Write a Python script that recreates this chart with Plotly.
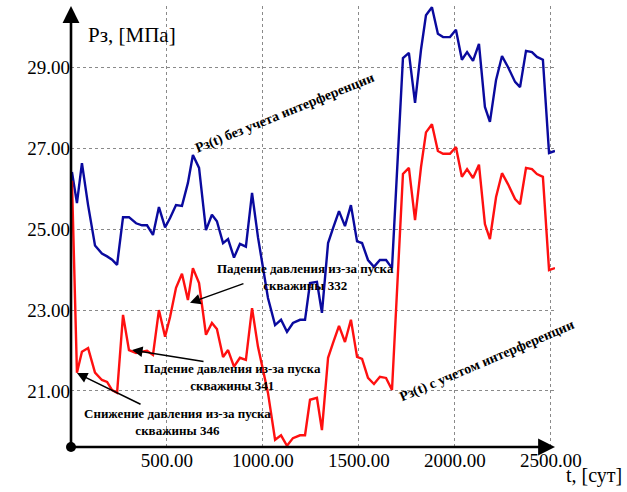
import plotly.graph_objects as go

# ---- data ----
t_days = [5, 31, 57, 89, 125, 161, 188, 214, 240, 271,
          302, 339, 370, 396, 427, 458, 490, 516, 547, 578,
          609, 635, 667, 703, 734, 760, 792, 818, 849, 880,
          911, 943, 974, 1000, 1026, 1063, 1094, 1125, 1156, 1193,
          1219, 1245, 1281, 1307, 1339, 1365, 1396, 1427, 1458, 1490,
          1516, 1547, 1578, 1609, 1641, 1672, 1703, 1729, 1760, 1792,
          1823, 1849, 1880, 1911, 1938, 1974, 2005, 2036, 2063, 2094,
          2125, 2156, 2182, 2214, 2245, 2276, 2313, 2339, 2370, 2401,
          2427, 2458, 2490, 2521]

p_no_interference = [26.42, 25.65, 26.64, 25.60, 24.60, 24.40, 24.33, 24.25, 24.12, 25.30,
                     25.30, 25.15, 25.10, 25.10, 24.86, 25.55, 25.05, 25.28, 25.60, 25.58,
                     26.15, 26.84, 26.52, 24.98, 25.36, 25.20, 24.66, 24.76, 24.30, 24.64,
                     24.57, 25.90, 24.80, 24.05, 23.30, 22.63, 22.76, 22.46, 22.68, 22.76,
                     22.76, 23.67, 23.70, 22.93, 24.66, 25.03, 25.45, 25.08, 25.60, 24.70,
                     24.66, 24.24, 24.07, 24.24, 24.24, 24.04, 26.90, 29.24, 29.37, 28.13,
                     29.44, 30.30, 30.50, 29.84, 29.76, 29.76, 29.94, 29.20, 29.39, 29.17,
                     29.59, 28.03, 27.66, 28.70, 29.29, 29.02, 28.65, 28.52, 29.42, 29.39,
                     29.27, 29.20, 26.89, 26.94]

p_interference = [26.20, 21.45, 21.97, 22.06, 21.45, 21.27, 21.22, 21.02, 20.95, 22.88,
                  22.01, 21.94, 21.97, 21.99, 21.89, 23.00, 22.34, 22.83, 23.55, 23.90,
                  23.25, 24.04, 23.67, 22.39, 22.68, 22.53, 21.84, 22.01, 21.60, 21.82,
                  21.77, 23.05, 22.09, 21.50, 20.95, 19.79, 19.90, 19.64, 19.83, 19.90,
                  19.90, 20.78, 20.83, 20.03, 21.82, 22.19, 22.61, 22.21, 22.76, 21.84,
                  21.79, 21.32, 21.17, 21.35, 21.32, 21.02, 23.90, 26.37, 26.52, 25.23,
                  26.54, 27.40, 27.60, 26.94, 26.87, 26.87, 27.04, 26.30, 26.49, 26.27,
                  26.60, 25.13, 24.76, 25.80, 26.39, 26.12, 25.75, 25.62, 26.52, 26.49,
                  26.37, 26.30, 23.99, 24.04]

y_tick_values = [21, 23, 25, 27, 29]
y_tick_labels = ["21.00", "23.00", "25.00", "27.00", "29.00"]
x_tick_values = [500, 1000, 1500, 2000, 2500]
x_tick_labels = ["500.00", "1000.00", "1500.00", "2000.00", "2500.00"]

X_MIN, X_MAX = 0, 2521
Y_MIN, Y_MAX = 19.61, 30.53

SERIF = "Liberation Serif, Times New Roman, DejaVu Serif Condensed, DejaVu Serif, serif"
BLUE = "#0A0A9E"
RED = "#FF1010"

fig = go.Figure()
fig.add_trace(go.Scatter(x=t_days, y=p_no_interference, mode="lines",
                         line=dict(color=BLUE, width=2.4), showlegend=False))
fig.add_trace(go.Scatter(x=t_days, y=p_interference, mode="lines",
                         line=dict(color=RED, width=2.4), showlegend=False))
# origin dot
fig.add_trace(go.Scatter(x=[X_MIN], y=[Y_MIN], mode="markers", cliponaxis=False,
                         marker=dict(color="black", size=10), showlegend=False))

annotations = []
# axis arrows
annotations.append(dict(x=X_MIN, y=Y_MAX, ax=X_MIN, ay=Y_MIN, xref="x", yref="y",
                        axref="x", ayref="y", text="", showarrow=True,
                        arrowhead=2, arrowsize=1.3, arrowwidth=2.6, arrowcolor="black"))
annotations.append(dict(x=X_MAX, y=Y_MIN, ax=X_MIN, ay=Y_MIN, xref="x", yref="y",
                        axref="x", ayref="y", text="", showarrow=True,
                        arrowhead=2, arrowsize=1.3, arrowwidth=2.6, arrowcolor="black"))

# axis titles
annotations.append(dict(x=0.126, y=0.934, xref="paper", yref="paper", text="Рз, [МПа]",
                        showarrow=False, xanchor="center", yanchor="middle",
                        font=dict(family=SERIF, size=21, color="black")))
annotations.append(dict(x=1.081, y=-0.064, xref="paper", yref="paper", text="t, [сут]",
                        showarrow=False, xanchor="center", yanchor="middle",
                        font=dict(family=SERIF, size=20, color="black")))

# rotated series labels
annotations.append(dict(x=1115, y=27.88, xref="x", yref="y",
                        text="<b>Рз(t) без учета интерференции</b>", showarrow=False,
                        textangle=-22, font=dict(family=SERIF, size=14, color="black")))
annotations.append(dict(x=2167, y=21.74, xref="x", yref="y",
                        text="<b>Рз(t) с учетом интерференции</b>", showarrow=False,
                        textangle=-23, font=dict(family=SERIF, size=14, color="black")))

# event labels
note_font = dict(family=SERIF, size=13, color="black")
annotations.append(dict(x=1219, y=23.82, xref="x", yref="y",
                        text="<b>Падение давления из-за пуска<br>скважины 332</b>",
                        showarrow=False, align="center", font=note_font))
annotations.append(dict(x=839, y=21.34, xref="x", yref="y",
                        text="<b>Падение давления из-за пуска<br>скважины 341</b>",
                        showarrow=False, align="center", font=note_font))
annotations.append(dict(x=557, y=20.23, xref="x", yref="y",
                        text="<b>Снижение давления из-за пуска<br>скважины 346</b>",
                        showarrow=False, align="center", font=note_font))

# event arrows (tail -> head)
for head, tail in [((620, 23.18), (906, 23.67)),
                   ((318, 22.01), (698, 21.72)),
                   ((31, 21.44), (370, 20.65))]:
    annotations.append(dict(x=head[0], y=head[1], ax=tail[0], ay=tail[1],
                            xref="x", yref="y", axref="x", ayref="y", text="",
                            showarrow=True, arrowhead=2, arrowsize=1.4,
                            arrowwidth=1.5, arrowcolor="black"))

fig.update_layout(
    width=627, height=492,
    margin=dict(l=71, r=72, t=6, b=45, autoexpand=False),
    paper_bgcolor="white", plot_bgcolor="white",
    font=dict(family=SERIF, color="black"),
    annotations=annotations,
    xaxis=dict(range=[X_MIN, X_MAX], tickvals=x_tick_values, ticktext=x_tick_labels,
               showgrid=True, gridcolor="#8a8a8a", gridwidth=1, griddash="dot",
               zeroline=False, showline=False, ticks="", automargin=False,
               tickfont=dict(family=SERIF, size=19, color="black")),
    yaxis=dict(range=[Y_MIN, Y_MAX], tickvals=y_tick_values, ticktext=y_tick_labels,
               showgrid=True, gridcolor="#8a8a8a", gridwidth=1, griddash="dot",
               zeroline=False, showline=False, ticks="", automargin=False,
               tickfont=dict(family=SERIF, size=19, color="black")),
)

fig.write_html("out.html", config={"displayModeBar": False},
               post_script="document.body.style.margin='0';document.body.style.padding='0';")
